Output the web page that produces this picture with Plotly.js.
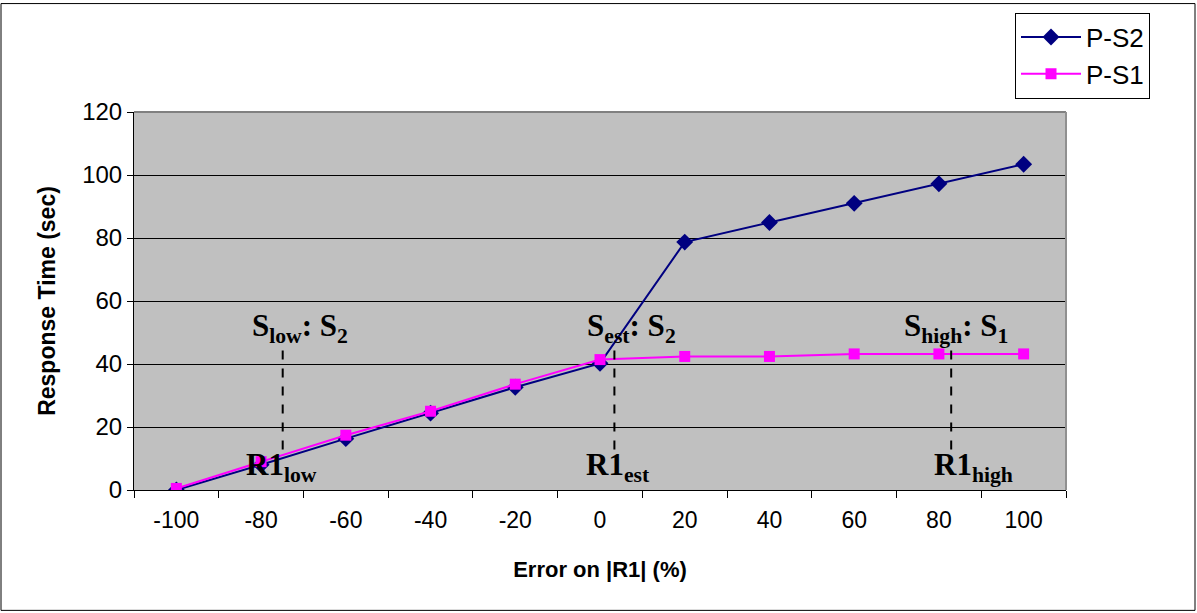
<!DOCTYPE html>
<html>
<head>
<meta charset="utf-8">
<script src="https://cdn.plot.ly/plotly-3.0.1.min.js"></script>
<style>
  html, body { margin: 0; padding: 0; background: #ffffff; }
  #chart { width: 1197px; height: 613px; }
</style>
</head>
<body>
<div id="chart"></div>
<script>
// ---- data ----
const categories = ['-100', '-80', '-60', '-40', '-20', '0', '20', '40', '60', '80', '100'];
const ps2Values = [0, 8, 16.3, 24.4, 32.6, 40.2, 78.7, 84.9, 91.0, 97.2, 103.4];
const ps1Values = [0.5, 9, 17.4, 25.0, 33.6, 41.4, 42.4, 42.4, 43.2, 43.2, 43.2];
const seriesNames = ['P-S2', 'P-S1'];
const yTickValues = [0, 20, 40, 60, 80, 100, 120];

// annotation labels (text) and where they sit, as category index / value
const topLabels = ['S<sub>low</sub>: S<sub>2</sub>', 'S<sub>est</sub>: S<sub>2</sub>', 'S<sub>high</sub>: S<sub>1</sub>'];
const bottomLabels = ['R1<sub>low</sub>', 'R1<sub>est</sub>', 'R1<sub>high</sub>'];
const markerIdx = [1.255, 5.17, 9.145];
const topLabelIdx = [1.46, 5.37, 9.20];
const bottomLabelIdx = [1.24, 5.21, 9.41];

const serif = 'Liberation Serif, Times New Roman, serif';
const sans = 'Liberation Sans, Arial, sans-serif';

const traces = [
  {
    x: categories, y: ps2Values, name: seriesNames[0], type: 'scatter', mode: 'lines+markers',
    line: { color: '#000080', width: 2 },
    marker: { symbol: 'diamond', size: 13, color: '#000080' }
  },
  {
    x: categories, y: ps1Values, name: seriesNames[1], type: 'scatter', mode: 'lines+markers',
    line: { color: '#ff00ff', width: 2 },
    marker: { symbol: 'square', size: 11, color: '#ff00ff' }
  }
];

const annotations = [];
for (let i = 0; i < 3; i++) {
  annotations.push({
    x: topLabelIdx[i], y: 51.5, xref: 'x', yref: 'y', text: '<b>' + topLabels[i] + '</b>',
    showarrow: false, xanchor: 'center', yanchor: 'middle',
    font: { family: serif, size: 31, color: '#000000' }
  });
  annotations.push({
    x: bottomLabelIdx[i], y: 7.3, xref: 'x', yref: 'y', text: '<b>' + bottomLabels[i] + '</b>',
    showarrow: false, xanchor: 'center', yanchor: 'middle',
    font: { family: serif, size: 31, color: '#000000' }
  });
}

const shapes = [];
for (let i = 0; i < 3; i++) {
  shapes.push({
    type: 'line', xref: 'x', yref: 'y', x0: markerIdx[i], x1: markerIdx[i], y0: 44.3, y1: 11,
    line: { color: '#000000', width: 2, dash: 'dash' }
  });
}
// plot-area top and right border (grey)
shapes.push({ type: 'line', xref: 'paper', yref: 'paper', x0: 0, x1: 1, y0: 1, y1: 1, line: { color: '#808080', width: 2 } });
shapes.push({ type: 'line', xref: 'paper', yref: 'paper', x0: 1, x1: 1, y0: 0, y1: 1, line: { color: '#909090', width: 2 } });
// outer chart frame
shapes.push({
  type: 'rect', xref: 'paper', yref: 'paper',
  x0: (1 - 134) / 932, x1: (1195 - 134) / 932, y0: (490 - 611) / 380, y1: (490 - 1) / 380,
  line: { color: '#000000', width: 1 }
});

const layout = {
  width: 1197, height: 613,
  margin: { l: 134, r: 131, t: 110, b: 123, pad: 0 },
  paper_bgcolor: '#ffffff',
  plot_bgcolor: '#c0c0c0',
  showlegend: true,
  legend: {
    x: (1015 - 134) / 932, y: (490 - 10) / 380, xanchor: 'left', yanchor: 'top',
    bgcolor: '#ffffff', bordercolor: '#000000', borderwidth: 1,
    font: { family: sans, size: 26, color: '#000000' },
    itemwidth: 60, tracegroupgap: 0
  },
  xaxis: {
    type: 'category', range: [-0.5, 10.5],
    tickson: 'boundaries', ticks: 'outside', ticklen: 7, tickcolor: '#000000', tickwidth: 1,
    ticklabelstandoff: 9,
    showgrid: false, zeroline: false,
    showline: true, linecolor: '#000000', linewidth: 1,
    tickfont: { family: sans, size: 23, color: '#000000' },
    title: { text: '<b>Error on |R1| (%)</b>', font: { family: sans, size: 22, color: '#000000' }, standoff: 30 }
  },
  yaxis: {
    range: [0, 120], tickvals: yTickValues, ticktext: yTickValues.map(String),
    ticks: 'outside', ticklen: 6, tickcolor: '#000000', tickwidth: 1,
    showgrid: true, gridcolor: '#000000', gridwidth: 1, zeroline: false,
    showline: true, linecolor: '#000000', linewidth: 1,
    tickfont: { family: sans, size: 24, color: '#000000' },
    title: { text: '<b>Response Time (sec)</b>', font: { family: sans, size: 23, color: '#000000' }, standoff: 20 }
  },
  annotations: annotations,
  shapes: shapes
};

Plotly.newPlot('chart', traces, layout, { displayModeBar: false, staticPlot: true });
</script>
</body>
</html>
